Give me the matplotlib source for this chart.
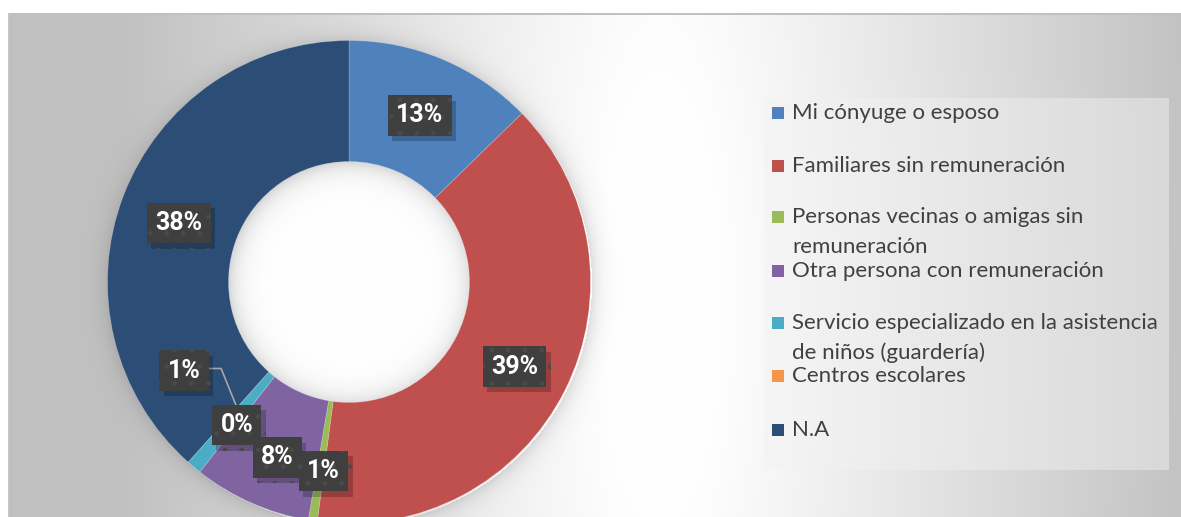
import numpy as np
import matplotlib
matplotlib.use("Agg")
import matplotlib.pyplot as plt
from matplotlib.patches import Rectangle
import matplotlib.patheffects as pe

# ---------------- data ----------------
categories = [
    "Mi cónyuge o esposo",
    "Familiares sin remuneración",
    "Personas vecinas o amigas sin\nremuneración",
    "Otra persona con remuneración",
    "Servicio especializado en la asistencia\nde niños (guardería)",
    "Centros escolares",
    "N.A",
]
values = [12.7, 39.4, 0.6, 7.9, 1.0, 0.0, 38.4]
colors = ["#4F81BD", "#C0504D", "#9BBB59", "#8064A2", "#4BACC6", "#F79646", "#2C4D75"]

# ---------------- layout (pixels) ----------------
W, H = 1181, 517
CX, CY = 349, 282
RO, RI = 241.5, 120.5
FONT = ["Lato", "DejaVu Sans"]
LFONT = ["Roboto", "DejaVu Sans"]

fig = plt.figure(figsize=(W / 100, H / 100), dpi=100)
ax = fig.add_axes([0, 0, 1, 1])

# ---------------- background with soft gradient + ring glow ----------------
yy, xx = np.mgrid[0:H, 0:W] + 0.5
d = np.sqrt(((xx - 660) / 540) ** 2 + ((yy - 300) / 2000) ** 2)
v = 255 - 62 * np.clip((d - 0.1) / 0.9, 0, 1)
r = np.sqrt((xx - CX - 1.5) ** 2 + (yy - CY - 1.5) ** 2)
s = np.zeros_like(v)
out = r > RO
s[out] = 0.12 * np.exp(-(r[out] - RO) / 9.0)
inn = r < RI + 2
v[inn] = 255
s[inn] = 0.14 * np.exp(-(RI - r[inn]) / 11.0)
v = v * (1 - s)
v[yy < 13] = 255
v[xx < 8] = 255
v[(yy >= 13) & (yy < 15) & (xx >= 8)] = 192
v[(xx >= 8) & (xx < 9) & (yy >= 13)] = 200
img = np.dstack([v, v, v]) / 255.0
ax.imshow(img, extent=(0, W, H, 0), zorder=0, interpolation="bilinear")

# ---------------- donut ----------------
wedges, _ = ax.pie(values, colors=colors, startangle=270, counterclock=True,
                   radius=RO, center=(CX, CY), frame=False,
                   wedgeprops=dict(width=RO - RI, edgecolor=(1, 1, 1, 0.25), linewidth=0.5))
for w in wedges:
    w.set_zorder(2)

ax.set_xlim(0, W)
ax.set_ylim(H, 0)
ax.set_aspect("equal", adjustable="box")
ax.axis("off")

# ---------------- data labels ----------------
total = sum(values)
cum = np.cumsum([0] + values)
label_r = 182
offsets = [(0, 0), (3, 2), (2, 8), (2, 8), (-48, -52), (9, 6), (0, 5)]
positions = []
for i, val in enumerate(values):
    mid = (cum[i] + val / 2) / total * 2 * np.pi
    x = CX + label_r * np.sin(mid) + offsets[i][0]
    y = CY - label_r * np.cos(mid) + offsets[i][1]
    positions.append((x, y))

# leader line for the cyan label
i_c = 4
mid_c = (cum[i_c] + values[i_c] / 2) / total * 2 * np.pi
lx, ly = positions[i_c]
end = (CX + 171 * np.sin(mid_c), CY - 171 * np.cos(mid_c))
ax.plot([lx + 25, lx + 37, end[0]], [ly - 1, ly - 1, end[1]], color="#a6a6a6", lw=1.2, zorder=3)

draw_order = [0, 1, 6, 4, 5, 3, 2]
for k, i in enumerate(draw_order):
    x, y = positions[i]
    txt = f"{round(values[i])}%"
    t = ax.text(x, y + 1, txt, ha="center", va="center", fontsize=18, fontweight="bold",
                family=LFONT, color="white", zorder=5 + k,
                bbox=dict(boxstyle="square,pad=0.33", fc="#3f3f3f", ec="#4a4a4a", lw=0, hatch="."))
    t.get_bbox_patch().set_path_effects(
        [pe.SimplePatchShadow(offset=(3, -4), shadow_rgbFace="black", alpha=0.22), pe.Normal()])

# ---------------- legend ----------------
ax.add_patch(Rectangle((764, 98), 405, 372, fc="#f2f2f2", alpha=0.45, ec="none", zorder=3))

probe = ax.text(0, 0, "Familiares sin remuneración", fontsize=14, family=FONT)
fig.canvas.draw()
wpx = probe.get_window_extent().width
probe.remove()
lfs = 14 * 274.0 / wpx

baselines = [119, 172, 223, 277, 329, 382, 436]
for cat, col, base in zip(categories, colors, baselines):
    ax.add_patch(Rectangle((772, base - 12), 12, 12, fc=col, ec="none", zorder=4))
    for j, line in enumerate(cat.split("\n")):
        ax.text(792, base + 30 * j, line, ha="left", va="baseline", fontsize=lfs,
                family=FONT, color="#404040", zorder=4)

fig.savefig("out.png", dpi=100)
